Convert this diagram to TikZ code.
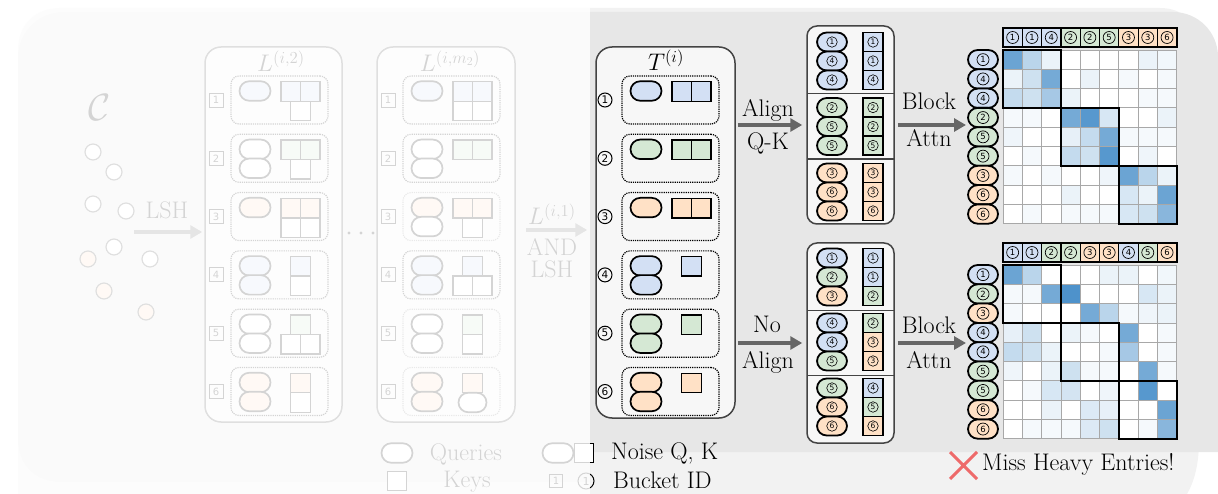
\RequirePackage{fix-cm}
\documentclass[tikz,border=0pt]{standalone}
\usepackage{fontspec}
\newfontfamily\dejavu{DejaVu Sans}
\usetikzlibrary{arrows.meta}

\definecolor{qblue}{HTML}{D3E0F4}
\definecolor{qgreen}{HTML}{D5E8D4}
\definecolor{qorange}{HTML}{FFE1C6}
\definecolor{bggray}{HTML}{E7E7E7}
\definecolor{bglight}{HTML}{F2F2F2}
\definecolor{panelfill}{HTML}{F7F7F7}
\definecolor{edgegray}{HTML}{444444}
\definecolor{arrowgray}{HTML}{666666}
\definecolor{gridgray}{HTML}{A8A8A8}
\definecolor{heat}{HTML}{3A86C5}
\definecolor{missred}{HTML}{EE6A6A}

\tikzset{
  txt/.style={font=\fontsize{24}{28}\selectfont, inner sep=0pt},
  panelbox/.style={draw=edgegray, fill=panelfill, line width=1.5pt, rounded corners=16pt, inner sep=0pt},
  dotrow/.style={densely dotted, line width=1.2pt, rounded corners=8pt, minimum width=97pt, minimum height=48pt, inner sep=0pt},
  qov/.style={draw=black, line width=1.7pt, rounded corners=9.7pt, minimum width=31pt, minimum height=19.5pt, inner sep=0pt},
  ksq/.style={draw=black, line width=1.4pt, minimum size=19.5pt, inner sep=0pt},
  cns/.style={circle, draw=black, line width=0.6pt, minimum size=10.5pt, inner sep=0pt, font=\dejavu\fontsize{7.5}{7.5}\selectfont},
  cnm/.style={circle, draw=black, line width=0.7pt, minimum size=12pt, inner sep=0pt, font=\dejavu\fontsize{8.5}{8.5}\selectfont},
  cnl/.style={circle, draw=black, line width=1pt, minimum size=14pt, inner sep=0pt, font=\dejavu\fontsize{10.5}{10.5}\selectfont},
  bnum/.style={draw=black, line width=0.9pt, minimum size=14pt, inner sep=0pt, font=\dejavu\fontsize{10}{10}\selectfont},
  bigarrow/.style={draw=arrowgray, line width=4pt, -{Triangle[length=12pt,width=13pt]}},
}

% one row of a bucket table: box left edge and row index
\newcommand\setrow[2]{\def\boxleft{#1}\pgfmathsetmacro\rowtop{76+58.3*#2}}
\newcommand\qsingle[2]{\node[qov,fill=#2] (#1) at ({\boxleft+50},{\rowtop+15}) {};}
\newcommand\qdouble[3]{\node[qov,fill=#2] (#1a) at ({\boxleft+50},{\rowtop+15}) {};%
  \node[qov,fill=#3] (#1b) at ({\boxleft+50},{\rowtop+34}) {};}
\newcommand\keysq[4]{\node[ksq,fill=#4] (#1) at ({\boxleft+#2},{\rowtop+#3}) {};}
\def\colL{85.75}\def\colR{105.25}\def\colM{95.5}\def\rowA{15.5}\def\rowB{35}

% dotted bucket frames with their labels
\newcommand\frames[5]{%
  \foreach \k/\fs in {#5} {
    \pgfmathsetmacro\ft{76+58.3*\k}
    \pgfmathtruncatemacro\lab{\k+1}
    \node[dotrow, draw=\fs] (#1f\k) at ({#2+74.5},{\ft+24}) {};
    \node[#3] (#1n\k) at ({#2+#4},{\ft+24}) {\lab};
  }}

% attention heat map: prefix, grid top, header, row labels, values
\newcommand\heatmap[5]{%
  \foreach \row [count=\r from 0] in {#5} {
    \foreach \v [count=\c from 0] in \row {
      \fill[heat!\v!white] ({1003+19.3*\c},{#2+19.3*\r}) rectangle ++(19.3,19.3);
    }
  }
  \foreach \i in {0,...,9} {
    \draw[gridgray, line width=0.8pt] ({1003+19.3*\i},#2) -- ++(0,173.7);
    \draw[gridgray, line width=0.8pt] (1003,{#2+19.3*\i}) -- ++(173.7,0);
  }
  \foreach \b in {0,1,2}
    \draw[line width=2pt] ({1003+57.9*\b},{#2+57.9*\b}) rectangle ++(57.9,57.9);
  \foreach \hn/\hc [count=\hi from 0] in {#3} {
    \node[ksq, minimum width=19.3pt, minimum height=19pt, line width=1.2pt, fill=\hc] (#1h\hi) at ({1012.65+19.3*\hi},{#2-12.5}) {};
    \node[cnm] (#1hn\hi) at (#1h\hi) {\hn};
  }
  \draw[line width=2pt] (1003,{#2-22}) rectangle (1176.7,{#2-3});
  \foreach \rn/\rc [count=\ri from 0] in {#4} {
    \node[qov, minimum width=30pt, minimum height=19.3pt, line width=1.8pt, fill=\rc] (#1r\ri) at (983,{#2+9.65+19.3*\ri}) {};
    \node[cnm] (#1rn\ri) at (#1r\ri) {\rn};
  }}

\begin{document}
\begin{tikzpicture}[x=1pt, y=-1pt]
\useasboundingbox (0,0) rectangle (1218,494);
\clip (0,0) rectangle (1218,494);

% backgrounds
\fill[bglight] (18,494) -- (18,50) .. controls (18,25) and (35,8) .. (60,8) -- (1160,8)
  .. controls (1185,8) and (1199,25) .. (1199,50) -- (1199,440)
  .. controls (1199,465) and (1194,482) .. (1187,494) -- cycle;
\fill[bggray] (18,440) -- (18,57) .. controls (18,32) and (38,12) .. (63,12) -- (1173,12)
  .. controls (1198,12) and (1218,32) .. (1218,57) -- (1218,452) -- (590,452) -- (590,482)
  -- (60,482) .. controls (35,482) and (18,465) .. (18,440) -- cycle;

% the point set C
\node[font=\fontsize{38}{40}\selectfont] (setC) at (100,108) {$\mathcal{C}$};
\foreach \px/\py/\pc [count=\k] in {93/152/white,114/172/white,93/204/white,126/211/white,114/247/white,88/259/qorange,150/259/white,104/291/qorange,146/312/qorange}
  \node[circle, draw=edgegray, line width=1.2pt, fill=\pc, minimum size=16pt, inner sep=0pt] (pt\k) at (\px,\py) {};
\node[txt, anchor=base] (lshtxt) at (167,219) {LSH};
\coordinate (lshstart) at (134,232);

% hash tables L^(i,2) and L^(i,m2)
\node[panelbox, minimum width=137pt, minimum height=375pt] (l2box) at (273.5,234.5) {};
\node[panelbox, minimum width=138pt, minimum height=375pt] (lmbox) at (446,234.5) {};
\draw[bigarrow, shorten >=2pt] (lshstart) -- (l2box.west |- lshstart);
\node[txt, anchor=base] (l2lab) at (281,72) {$L^{(i,2)}$};
\node[txt, anchor=base] (lmlab) at (450,72) {$L^{(i,m_2)}$};
\frames{a}{205}{bnum}{11}{0/black,1/black,2/black,3/black,4/black,5/black}
\frames{b}{377}{bnum}{11}{0/black,1/black,2/gray,3/black,4/gray,5/gray}
\foreach \dx [count=\k] in {349,361,373}
  \fill (\dx,233) circle (1.6);

\setrow{205}{0} \qsingle{aq0}{qblue} \keysq{ak0a}{\colL}{\rowA}{qblue} \keysq{ak0b}{\colR}{\rowA}{qblue} \keysq{ak0c}{\colM}{\rowB}{white}
\setrow{205}{1} \qdouble{aq1}{white}{white} \keysq{ak1a}{\colL}{\rowA}{qgreen} \keysq{ak1b}{\colR}{\rowA}{qgreen} \keysq{ak1c}{\colM}{\rowB}{white}
\setrow{205}{2} \qsingle{aq2}{qorange} \keysq{ak2a}{\colL}{\rowA}{qorange} \keysq{ak2b}{\colR}{\rowA}{qorange} \keysq{ak2c}{\colL}{\rowB}{white} \keysq{ak2d}{\colR}{\rowB}{white}
\setrow{205}{3} \qdouble{aq3}{qblue}{qblue} \keysq{ak3a}{\colM}{\rowA}{qblue} \keysq{ak3b}{\colM}{\rowB}{white}
\setrow{205}{4} \qdouble{aq4}{white}{white} \keysq{ak4a}{\colM}{\rowA}{qgreen} \keysq{ak4b}{\colL}{\rowB}{white} \keysq{ak4c}{\colR}{\rowB}{white}
\setrow{205}{5} \qdouble{aq5}{qorange}{qorange} \keysq{ak5a}{\colM}{\rowA}{qorange} \keysq{ak5b}{\colM}{\rowB}{white}

\setrow{377}{0} \qsingle{bq0}{qblue} \keysq{bk0a}{\colL}{\rowA}{qblue} \keysq{bk0b}{\colR}{\rowA}{qblue} \keysq{bk0c}{\colL}{\rowB}{white} \keysq{bk0d}{\colR}{\rowB}{white}
\setrow{377}{1} \qdouble{bq1}{white}{white} \keysq{bk1a}{\colL}{\rowA}{qgreen} \keysq{bk1b}{\colR}{\rowA}{qgreen}
\setrow{377}{2} \qdouble{bq2}{qorange}{white} \keysq{bk2a}{\colL}{\rowA}{qorange} \keysq{bk2b}{\colR}{\rowA}{qorange} \keysq{bk2c}{\colM}{\rowB}{white}
\setrow{377}{3} \qdouble{bq3}{qblue}{qblue} \keysq{bk3a}{\colM}{\rowA}{qblue} \keysq{bk3b}{\colL}{\rowB}{white} \keysq{bk3c}{\colR}{\rowB}{white}
\setrow{377}{4} \qdouble{bq4}{white}{white} \keysq{bk4a}{\colM}{\rowA}{qgreen} \keysq{bk4b}{\colM}{\rowB}{white}
\setrow{377}{5} \qdouble{bq5}{qorange}{qorange} \keysq{bk5a}{\colM}{\rowA}{qorange}
  \node[qov, minimum width=28pt, fill=white] (bk5b) at ({\boxleft+\colM},{\rowtop+\rowB}) {};

% combined table T^(i)
\node[panelbox, minimum width=139pt, minimum height=371pt] (tbox) at (665.5,232.5) {};
\node[txt, anchor=base] (tlab) at (666,71) {$T^{(i)}$};
\coordinate (androw) at (0,230);
\draw[bigarrow, shorten <=10pt, shorten >=8pt] (lmbox.east |- androw) -- (tbox.west |- androw);
\node[txt, anchor=base] (andlab) at (552,225) {$L^{(i,1)}$};
\node[txt, anchor=base] (andtxt) at (552,256) {AND};
\node[txt, anchor=base] (andlsh) at (552,278) {LSH};
\frames{t}{596}{cnl}{9}{0/black,1/black,2/black,3/black,4/black,5/black}
\setrow{596}{0} \qsingle{tq0}{qblue} \keysq{tk0a}{\colL}{\rowA}{qblue} \keysq{tk0b}{\colR}{\rowA}{qblue}
\setrow{596}{1} \qsingle{tq1}{qgreen} \keysq{tk1a}{\colL}{\rowA}{qgreen} \keysq{tk1b}{\colR}{\rowA}{qgreen}
\setrow{596}{2} \qsingle{tq2}{qorange} \keysq{tk2a}{\colL}{\rowA}{qorange} \keysq{tk2b}{\colR}{\rowA}{qorange}
\setrow{596}{3} \qdouble{tq3}{qblue}{qblue} \keysq{tk3}{\colM}{\rowA}{qblue}
\setrow{596}{4} \qdouble{tq4}{qgreen}{qgreen} \keysq{tk4}{\colM}{\rowA}{qgreen}
\setrow{596}{5} \qdouble{tq5}{qorange}{qorange} \keysq{tk5}{\colM}{\rowA}{qorange}

% sorted columns
\node[panelbox, rounded corners=10pt, minimum width=87pt, minimum height=198pt] (topcol) at (850.5,125) {};
\node[panelbox, rounded corners=10pt, minimum width=87pt, minimum height=200pt] (botcol) at (850.5,343) {};
\draw[edgegray, line width=1.5pt] (807,93.5) -- (894,93.5) (807,159) -- (894,159);
\draw[edgegray, line width=1.5pt] (807,310.5) -- (894,310.5) (807,375.5) -- (894,375.5);
\foreach \n/\c/\m/\d [count=\k from 0] in {1/qblue/1/qblue,4/qblue/1/qblue,4/qblue/4/qblue,2/qgreen/2/qgreen,5/qgreen/2/qgreen,5/qgreen/5/qgreen,3/qorange/3/qorange,6/qorange/3/qorange,6/qorange/6/qorange} {
  \pgfmathsetmacro\yy{42+19*\k+8.5*floor(\k/3)}
  \node[qov, minimum width=30pt, minimum height=19pt, line width=1.8pt, fill=\c] (tcq\k) at (832,\yy) {};
  \node[cns] (tcqn\k) at (tcq\k) {\n};
  \node[ksq, minimum width=20pt, minimum height=19pt, fill=\d] (tck\k) at (873,\yy) {};
  \node[cns] (tckn\k) at (tck\k) {\m};
}
\foreach \n/\c/\m/\d [count=\k from 0] in {1/qblue/1/qblue,2/qgreen/1/qblue,3/qorange/2/qgreen,4/qblue/2/qgreen,4/qblue/3/qorange,5/qgreen/3/qorange,5/qgreen/4/qblue,6/qorange/5/qgreen,6/qorange/6/qorange} {
  \pgfmathsetmacro\yy{258+19*\k+8*floor(\k/3)}
  \node[qov, minimum width=30pt, minimum height=19pt, line width=1.8pt, fill=\c] (bcq\k) at (832,\yy) {};
  \node[cns] (bcqn\k) at (bcq\k) {\n};
  \node[ksq, minimum width=20pt, minimum height=19pt, fill=\d] (bck\k) at (873,\yy) {};
  \node[cns] (bckn\k) at (bck\k) {\m};
}
\draw[bigarrow, shorten <=2pt, shorten >=4pt] (tbox.east |- topcol.west) -- (topcol.west);
\draw[bigarrow, shorten <=2pt, shorten >=4pt] (tbox.east |- botcol.west) -- (botcol.west);
\node[txt, anchor=base] (aligntxt) at (768,117) {Align};
\node[txt, anchor=base] (qktxt) at (768,150) {Q-K};
\node[txt, anchor=base] (notxt) at (767,332) {No};
\node[txt, anchor=base] (noaligntxt) at (768,368) {Align};

% block attention
\coordinate (topin) at (966,125);
\coordinate (botin) at (966,343);
\draw[bigarrow, shorten <=3pt] (topcol.east) -- (topin);
\draw[bigarrow, shorten <=3pt] (botcol.east) -- (botin);
\node[txt, anchor=base] (blocka) at (929,110) {Block};
\node[txt, anchor=base] (attna) at (929,147) {Attn};
\node[txt, anchor=base] (blockb) at (929,334) {Block};
\node[txt, anchor=base] (attnb) at (929,368) {Attn};

\heatmap{ma}{50}
  {1/qblue,1/qblue,4/qblue,2/qgreen,2/qgreen,5/qgreen,3/qorange,3/qorange,6/qorange}
  {1/qblue,4/qblue,4/qblue,2/qgreen,5/qgreen,5/qgreen,3/qorange,6/qorange,6/qorange}
  {{75,35,10,0,0,0,0,10,7},{10,25,70,0,10,0,5,0,5},{30,25,45,10,0,0,0,5,5},
   {5,5,0,70,85,20,0,0,10},{8,0,0,12,30,70,5,5,5},{0,5,0,30,25,85,0,8,0},
   {5,0,5,0,0,8,75,35,10},{0,0,0,10,0,0,20,10,75},{0,5,0,5,5,5,20,25,60}}
\heatmap{mb}{265}
  {1/qblue,1/qblue,2/qgreen,2/qgreen,3/qorange,3/qorange,4/qblue,5/qgreen,6/qorange}
  {1/qblue,2/qgreen,3/qorange,4/qblue,4/qblue,5/qgreen,5/qgreen,6/qorange,6/qorange}
  {{75,35,0,0,0,10,10,0,7},{5,5,70,90,0,0,0,20,10},{5,0,0,0,70,35,5,8,10},
   {12,25,0,10,5,0,70,0,5},{30,25,10,0,0,5,45,0,5},{8,0,10,25,5,5,0,70,5},
   {0,5,20,22,0,8,0,85,0},{0,0,10,0,18,12,0,0,75},{0,5,5,5,18,25,0,5,60}}

% legend
\node[qov, fill=white] (legq) at (397,453) {};
\node[txt, anchor=base] (legqt) at (466,460) {Queries};
\node[ksq, fill=white] (legk) at (397,481) {};
\node[txt, anchor=base] (legkt) at (467,487) {Keys};
\node[qov, fill=white] (legnq) at (558,453) {};
\node[ksq, fill=white] (legnk) at (584,453) {};
\node[txt, anchor=base west] (legnt) at (611,459) {Noise Q, K};
\node[bnum, minimum size=13pt] (legb) at (556,481) {1};
\node[cnl, minimum size=16pt, font=\dejavu\fontsize{11}{11}\selectfont] (legc) at (586,481) {1};
\node[txt, anchor=base west] (legbt) at (613,488) {Bucket ID};

% missed entries
\draw[missred, line width=3pt] (950,452) -- (977,479) (950,479) -- (977,452);
\node[txt, anchor=base west] (miss) at (982,470) {Miss Heavy Entries!};

% earlier stages shown faded
\fill[white, opacity=0.83] (0,0) rectangle (590,494);
\end{tikzpicture}
\end{document}
